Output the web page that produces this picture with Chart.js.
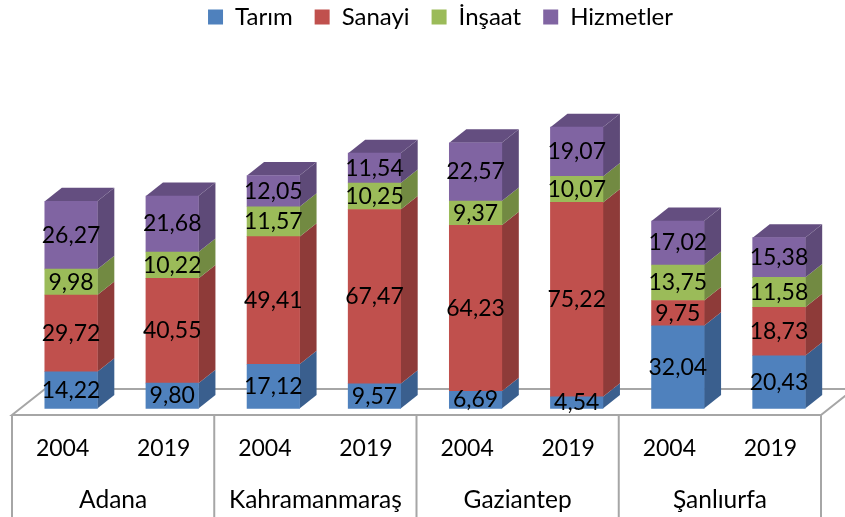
<!DOCTYPE html>
<html><head><meta charset="utf-8">
<style>html,body{margin:0;padding:0;background:#fff}canvas{display:block}</style>
<script src="https://cdn.jsdelivr.net/npm/chart.js@4/dist/chart.umd.min.js"></script>
</head><body><canvas id="c" width="845" height="517"></canvas>
<script>
const years = ['2004','2019','2004','2019','2004','2019','2004','2019'];
const provinces = ['Adana','Kahramanmaraş','Gaziantep','Şanlıurfa'];
const tarim = [14.22,9.80,17.12,9.57,6.69,4.54,32.04,20.43];
const sanayi = [29.72,40.55,49.41,67.47,64.23,75.22,9.75,18.73];
const insaat = [9.98,10.22,11.57,10.25,9.37,10.07,13.75,11.58];
const hizmetler = [26.27,21.68,12.05,11.54,22.57,19.07,17.02,15.38];

const FONT = 'Lato, Carlito, sans-serif';
const FSIZE = 23;
const SHIFT = 8.5, DX = 17, DY = 13.5, FLOOR = 6.5;
const GRID = '#A6A6A6';
const sideColors = ['#3A5F8E','#8E3B39','#728A42','#5E4A78'];
const topColors = ['#41699B','#9C4240','#7D9749','#644E80'];

const threeD = {
  id:'threeD',
  beforeLayout(chart){
    const l = chart.legend;
    if(l && !l._wrapped){
      const f = l.fit;
      l.fit = function(){ f.call(this); this.height = 97.2; };
      l._wrapped = true;
    }
  },
  afterLayout(chart){
    const l = chart.legend;
    l.left = 18; l.right = 863; l.top = -17;
  },
  beforeDatasetsDraw(chart){
    const {ctx, chartArea:a, scales} = chart;
    const fy = a.bottom + FLOOR, backY = fy - 26, backDX = 33;
    ctx.save();
    ctx.strokeStyle = GRID; ctx.lineWidth = 2;
    ctx.beginPath();
    ctx.moveTo(a.left, fy); ctx.lineTo(a.left + backDX, backY);
    ctx.lineTo(a.right + backDX, backY); ctx.lineTo(a.right, fy);
    ctx.closePath(); ctx.stroke();
    const g = scales.x2, n = provinces.length;
    ctx.beginPath();
    for(let i=0;i<=n;i++){
      const x = g.left + i*g.width/n;
      ctx.moveTo(x, fy); ctx.lineTo(x, chart.height);
    }
    ctx.stroke();
    ctx.restore();
    ctx.save();
    ctx.translate(SHIFT,0);
    const metas = chart.getSortedVisibleDatasetMetas();
    metas.forEach((m,di)=>{
      m.data.forEach(b=>{
        const p = b.getProps(['x','y','base','width'],true);
        const r = p.x + p.width/2, l = p.x - p.width/2;
        ctx.fillStyle = sideColors[di];
        ctx.beginPath();
        ctx.moveTo(r,p.base); ctx.lineTo(r+DX,p.base-DY);
        ctx.lineTo(r+DX,p.y-DY); ctx.lineTo(r,p.y); ctx.closePath(); ctx.fill();
        if(di===metas.length-1){
          ctx.fillStyle = topColors[di];
          ctx.beginPath();
          ctx.moveTo(l,p.y); ctx.lineTo(l+DX,p.y-DY);
          ctx.lineTo(r+DX,p.y-DY); ctx.lineTo(r,p.y); ctx.closePath(); ctx.fill();
        }
      });
    });
    ctx.restore();
    ctx.save();
    ctx.translate(SHIFT,0);
  },
  afterDatasetsDraw(chart){
    const {ctx} = chart;
    ctx.restore();
    ctx.save();
    ctx.font = FSIZE+'px '+FONT;
    ctx.fillStyle = '#000';
    ctx.textAlign = 'center'; ctx.textBaseline = 'middle';
    chart.getSortedVisibleDatasetMetas().forEach((m,di)=>{
      m.data.forEach((b,i)=>{
        const p = b.getProps(['x','y','base'],true);
        const v = chart.data.datasets[di].data[i];
        ctx.fillText(v.toFixed(2).replace('.',','), p.x+SHIFT, (p.y+p.base)/2);
      });
    });
    ctx.restore();
  }
};

const mk = (label,data,color)=>({label,data,backgroundColor:color,borderWidth:0,barThickness:52.5,clip:false,stack:'s'});
new Chart(document.getElementById('c'),{
  type:'bar',
  data:{labels:years,datasets:[
    mk('Tarım',tarim,'#4F81BD'),
    mk('Sanayi',sanayi,'#C0504D'),
    mk('İnşaat',insaat,'#9BBB59'),
    mk('Hizmetler',hizmetler,'#8064A2')
  ]},
  options:{
    responsive:false,animation:false,
    layout:{padding:{left:12,right:24,top:0,bottom:0}},
    plugins:{
      tooltip:{enabled:false},
      legend:{position:'top',labels:{color:'#000',boxWidth:15,boxHeight:15,padding:22,font:{family:FONT,size:24}}}
    },
    scales:{
      y:{display:false,stacked:true,min:0,max:120.5},
      x:{stacked:true,offset:true,weight:0,grid:{display:false},border:{display:false},
         afterFit(s){s.height=60;},
         ticks:{color:'#000',font:{family:FONT,size:FSIZE},padding:18,maxRotation:0,autoSkip:false}},
      x2:{type:'category',labels:provinces,position:'bottom',offset:true,weight:1,grid:{display:false},border:{display:false},
         afterFit(s){s.height=48.5;},
         ticks:{color:'#000',font:{family:FONT,size:24.5},padding:9,maxRotation:0,autoSkip:false}}
    }
  },
  plugins:[threeD]
});
</script></body></html>
